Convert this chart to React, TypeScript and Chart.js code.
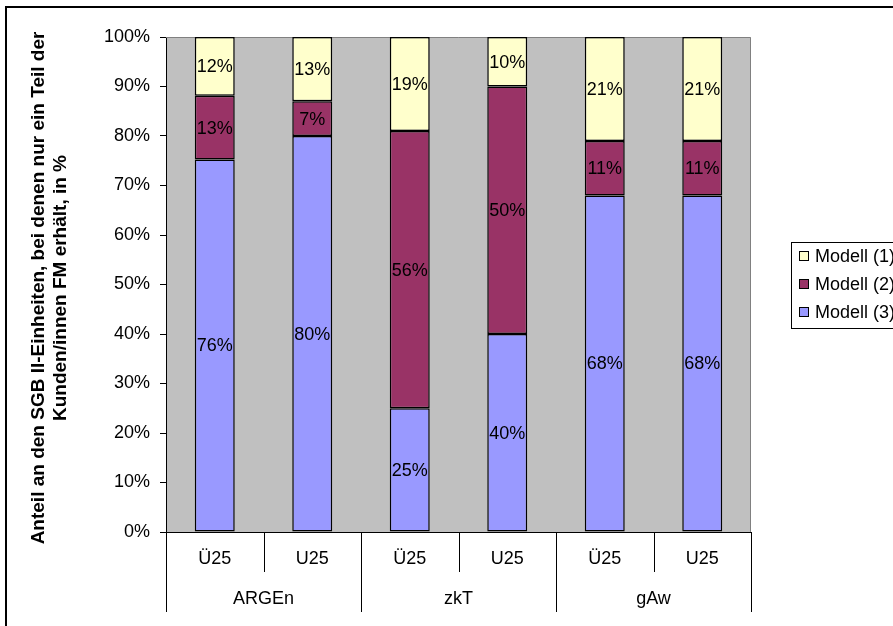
import React, { useEffect, useRef } from "react";
import { Chart, registerables } from "chart.js";

Chart.register(...registerables);

const groups = ["ARGEn", "zkT", "gAw"];
const subLabels = ["Ü25", "U25", "Ü25", "U25", "Ü25", "U25"];
const modell1 = [12, 13, 19, 10, 21, 21];
const modell2 = [13, 7, 56, 50, 11, 11];
const modell3 = [76, 80, 25, 40, 68, 68];
const yTitle = [
  "Anteil an den SGB II-Einheiten, bei denen nur ein Teil der",
  "Kunden/innen FM erhält, in %",
];

const FONT = "Arial, 'Liberation Sans', sans-serif";

const totals = subLabels.map((_, i) => modell1[i] + modell2[i] + modell3[i]);
const pct = (arr: number[]) => arr.map((v, i) => (v / totals[i]) * 100);

const series = [
  { label: "Modell (3)", raw: modell3, color: "#9999FF" },
  { label: "Modell (2)", raw: modell2, color: "#993366" },
  { label: "Modell (1)", raw: modell1, color: "#FFFFCC" },
];

export default function App() {
  const ref = useRef<HTMLCanvasElement>(null);

  useEffect(() => {
    document.body.style.margin = "0";
    const canvas = ref.current!;

    const decor = {
      id: "decor",
      beforeDraw(chart: any) {
        const { ctx, chartArea: a } = chart;
        ctx.save();
        ctx.fillStyle = "#fff";
        ctx.fillRect(0, 0, chart.width, chart.height);
        ctx.fillStyle = "#C0C0C0";
        ctx.fillRect(a.left, a.top, a.right - a.left, a.bottom - a.top);
        ctx.restore();
      },
      beforeDatasetsDraw(chart: any) {
        const { ctx, chartArea: a } = chart;
        ctx.save();
        ctx.strokeStyle = "#808080";
        ctx.lineWidth = 1;
        ctx.beginPath();
        ctx.moveTo(a.left, a.top + 0.5);
        ctx.lineTo(a.right - 0.5, a.top + 0.5);
        ctx.lineTo(a.right - 0.5, a.bottom);
        ctx.stroke();
        ctx.restore();
      },
      afterDraw(chart: any) {
        const { ctx, chartArea: a } = chart;
        const xs = chart.scales.x;
        ctx.save();
        // data labels
        ctx.fillStyle = "#000";
        ctx.font = `18px ${FONT}`;
        ctx.textAlign = "center";
        ctx.textBaseline = "middle";
        chart.data.datasets.forEach((ds: any, di: number) => {
          const meta = chart.getDatasetMeta(di);
          meta.data.forEach((el: any, i: number) => {
            const y = (el.y + el.base) / 2;
            ctx.fillText(series[di].raw[i] + "%", el.x, y + 1);
          });
        });
        // x axis two-level labels
        const n = subLabels.length;
        const cw = (a.right - a.left) / n;
        subLabels.forEach((lab, i) => {
          ctx.fillText(lab, xs.getPixelForValue(i), 559);
        });
        groups.forEach((g, gi) => {
          const cx = (xs.getPixelForValue(gi * 2) + xs.getPixelForValue(gi * 2 + 1)) / 2;
          ctx.fillText(g, cx, 599);
        });
        ctx.strokeStyle = "#000";
        ctx.lineWidth = 1;
        for (let i = 0; i <= n; i++) {
          const x = Math.round(xs.getPixelForValue(0) - cw / 2 + i * cw) + 0.5;
          const long = i % 2 === 0;
          ctx.beginPath();
          ctx.moveTo(x, a.bottom);
          ctx.lineTo(x, long ? 612 : 572);
          ctx.stroke();
        }
        // y title
        ctx.font = `bold 19px ${FONT}`;
        ctx.fillStyle = "#000";
        const cy = 288;
        [39, 61].forEach((x, li) => {
          ctx.save();
          ctx.translate(x, cy);
          ctx.rotate(-Math.PI / 2);
          ctx.fillText(yTitle[li], 0, 0);
          ctx.restore();
        });
        // legend
        ctx.strokeStyle = "#000";
        ctx.strokeRect(791.5, 242.5, 140, 86);
        ctx.font = `18px ${FONT}`;
        ctx.textAlign = "left";
        const legendItems = [...series].reverse();
        legendItems.forEach((s, k) => {
          const yc = 256 + k * 28;
          ctx.fillStyle = s.color;
          ctx.fillRect(799.5, yc - 4.5, 9, 9);
          ctx.strokeRect(799.5, yc - 4.5, 9, 9);
          ctx.fillStyle = "#000";
          ctx.fillText(s.label, 815, yc + 1);
        });
        // outer frame
        ctx.fillStyle = "#000";
        ctx.fillRect(5, 6, chart.width, 2);
        ctx.fillRect(5, 6, 2, chart.height);
        ctx.restore();
      },
    };

    const chart = new Chart(canvas, {
      type: "bar",
      data: {
        labels: subLabels,
        datasets: series.map((s) => ({
          label: s.label,
          data: pct(s.raw),
          backgroundColor: s.color,
          borderColor: "#000",
          borderWidth: 1.5,
          borderSkipped: false,
          barPercentage: 0.41,
          categoryPercentage: 1,
        })),
      },
      options: {
        responsive: false,
        animation: false,
        layout: { padding: { top: 37, right: 142, left: 0, bottom: 0 } },
        plugins: { legend: { display: false }, tooltip: { enabled: false } },
        scales: {
          x: {
            stacked: true,
            ticks: { display: false },
            grid: { display: false },
            border: { display: true, color: "#000", width: 1 },
            afterFit: (s: any) => {
              s.height = 94;
            },
          },
          y: {
            stacked: true,
            min: 0,
            max: 100,
            ticks: {
              stepSize: 10,
              color: "#000",
              padding: 10,
              font: { family: FONT, size: 18 },
              callback: (v: any) => v + "%",
            },
            grid: { drawOnChartArea: false, drawTicks: true, tickLength: 6, color: "#000" },
            border: { display: true, color: "#000", width: 1 },
            afterFit: (s: any) => {
              s.width = 166;
            },
          },
        },
      },
      plugins: [decor],
    });
    return () => chart.destroy();
  }, []);

  return (
    <div style={{ width: 893, height: 626 }}>
      <canvas ref={ref} width={893} height={626} />
    </div>
  );
}
